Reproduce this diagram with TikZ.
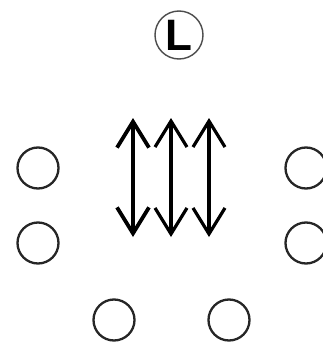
\documentclass[tikz,border=0pt]{standalone}
\usepackage{fontspec}
\setmainfont{Liberation Sans}
\usetikzlibrary{arrows.meta}
\begin{document}
\begin{tikzpicture}[x=1pt,y=-1pt,
  ring/.style={draw=black!85,circle,minimum size=41pt,inner sep=0pt,line width=2.3pt},
  lring/.style={draw=black!70,circle,minimum size=48pt,inner sep=0pt,line width=1.4pt,font=\fontsize{44}{44}\selectfont\bfseries},
  dbl/.style={{Straight Barb[length=26pt,width=32pt]}-{Straight Barb[length=26pt,width=32pt]}}
]
\useasboundingbox (0,0) rectangle (322,343);
\node[lring] (L) at (179,35) {L};
\node[ring] (l1) at (38,168) {};
\node[ring] (l2) at (38,243) {};
\node[ring] (r1) at (306,168) {};
\node[ring] (r2) at (306,243) {};
\node[ring] (b1) at (114,320) {};
\node[ring] (b2) at (229,320) {};
\coordinate (a1t) at (133,118);
\coordinate (a1b) at (133,237);
\coordinate (a2t) at (171,118);
\coordinate (a2b) at (171,237);
\coordinate (a3t) at (209,118);
\coordinate (a3b) at (209,237);
\draw[dbl,line width=3.8pt] (a1b) -- (a1t);
\draw[dbl,line width=3.2pt] (a2b) -- (a2t);
\draw[dbl,line width=3.2pt] (a3b) -- (a3t);
\end{tikzpicture}
\end{document}
